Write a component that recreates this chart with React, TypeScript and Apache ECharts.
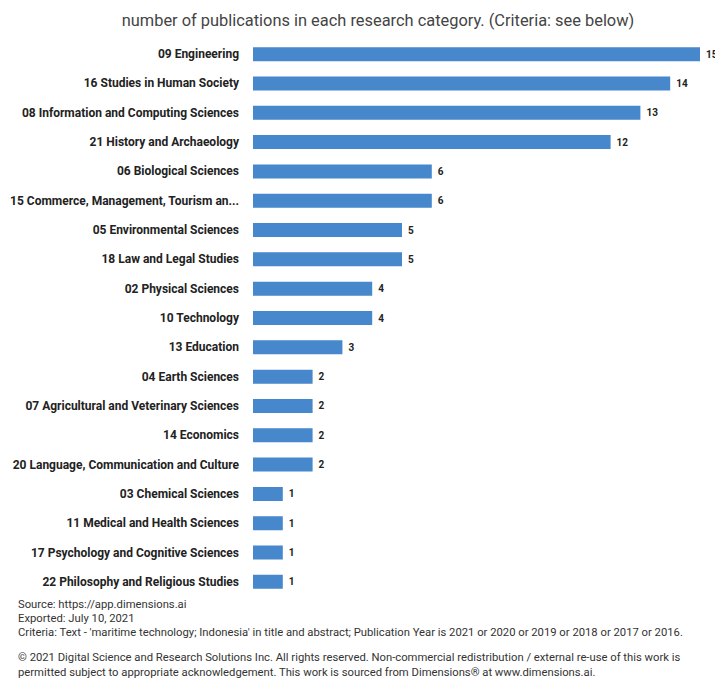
import React, { useEffect, useRef } from "react";
import * as echarts from "echarts";

const categories = [
  "09 Engineering",
  "16 Studies in Human Society",
  "08 Information and Computing Sciences",
  "21 History and Archaeology",
  "06 Biological Sciences",
  "15 Commerce, Management, Tourism and Services",
  "05 Environmental Sciences",
  "18 Law and Legal Studies",
  "02 Physical Sciences",
  "10 Technology",
  "13 Education",
  "04 Earth Sciences",
  "07 Agricultural and Veterinary Sciences",
  "14 Economics",
  "20 Language, Communication and Culture",
  "03 Chemical Sciences",
  "11 Medical and Health Sciences",
  "17 Psychology and Cognitive Sciences",
  "22 Philosophy and Religious Studies",
];

const values = [15, 14, 13, 12, 6, 6, 5, 5, 4, 4, 3, 2, 2, 2, 2, 1, 1, 1, 1];

const titleText = "number of publications in each research category. (Criteria: see below)";

const footerLines = [
  "Source: https://app.dimensions.ai",
  "Exported: July 10, 2021",
  "Criteria: Text - 'maritime technology; Indonesia' in title and abstract; Publication Year is 2021 or 2020 or 2019 or 2018 or 2017 or 2016.",
];
const copyrightLines = [
  "© 2021 Digital Science and Research Solutions Inc. All rights reserved. Non-commercial redistribution / external re-use of this work is",
  "permitted subject to appropriate acknowledgement. This work is sourced from Dimensions® at www.dimensions.ai.",
];

export default function App() {
  const ref = useRef<HTMLDivElement>(null);
  useEffect(() => {
    if (!ref.current) return;
    const chart = echarts.init(ref.current, null, { renderer: "svg" });
    const font = "Roboto";
    chart.setOption({
      animation: false,
      backgroundColor: "#ffffff",
      title: {
        text: titleText,
        left: 373,
        textAlign: "center",
        top: 7,
        textStyle: { fontFamily: font, fontSize: 16.4, fontWeight: "normal", color: "#444" },
      },
      grid: { left: 253, right: 15, top: 39.5, bottom: 81.5, containLabel: false },
      xAxis: {
        type: "value",
        min: 0,
        max: 15,
        show: false,
      },
      yAxis: {
        type: "category",
        data: categories,
        inverse: true,
        axisLine: { show: false },
        axisTick: { show: false },
        axisLabel: {
          fontFamily: font,
          fontSize: 12,
          fontWeight: "bold",
          color: "#222",
          margin: 14,
          formatter: (v: string) => (v.length > 40 ? v.slice(0, 35) + "..." : v),
        },
      },
      series: [
        {
          type: "bar",
          data: values,
          barWidth: 14,
          itemStyle: { color: "#4787cb" },
          label: {
            show: true,
            position: "right",
            distance: 6,
            fontFamily: font,
            fontSize: 10,
            fontWeight: "bold",
            color: "#222",
          },
        },
      ],
      graphic: [
        ...footerLines.map((t, i) => ({
          type: "text",
          left: 18,
          top: 599 + i * 13.8,
          style: { text: t, fontFamily: font, fontSize: 11.25, fill: "#333" },
        })),
        ...copyrightLines.map((t, i) => ({
          type: "text",
          left: 18,
          top: 652 + i * 14.5,
          style: { text: t, fontFamily: font, fontSize: 11.25, fill: "#333" },
        })),
      ],
    });
    return () => chart.dispose();
  }, []);
  return (
    <div
      ref={ref}
      style={{ position: "fixed", left: 0, top: 0, width: 715, height: 678 }}
    />
  );
}
